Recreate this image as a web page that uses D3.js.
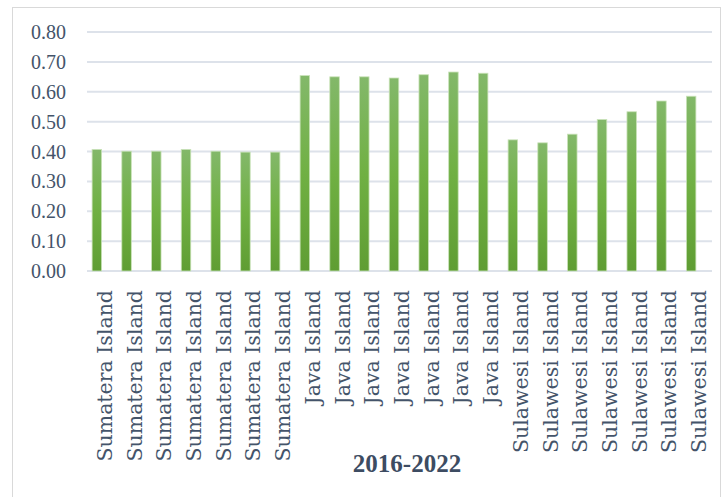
<!DOCTYPE html>
<head>
  <meta charset="utf-8">
  <script src="https://cdn.jsdelivr.net/npm/d3@7"></script>
  <style>
    body { margin:0; background:#fff; }
    svg { display:block; }
  </style>
</head>

<body>
  <script>
    // values, 2016-2022 for each island
    var islands = ["Sumatera Island", "Java Island", "Sulawesi Island"];
    var years = [2016, 2017, 2018, 2019, 2020, 2021, 2022];
    var sumatera = [0.407, 0.401, 0.401, 0.407, 0.401, 0.398, 0.398];
    var java = [0.654, 0.650, 0.650, 0.646, 0.657, 0.666, 0.662];
    var sulawesi = [0.439, 0.429, 0.458, 0.507, 0.533, 0.569, 0.585];
    var yTicks = [0, 0.1, 0.2, 0.3, 0.4, 0.5, 0.6, 0.7, 0.8];
    var axisTitle = "2016-2022";

    var width = 722, height = 497;

    // flatten into one row per bar
    var rows = [];
    [sumatera, java, sulawesi].forEach(function (s, i) {
      s.forEach(function (v, j) {
        rows.push({ id: i + "-" + j, label: islands[i], value: v });
      });
    });

    var svg = d3.select("body").append("svg")
      .attr("width", width)
      .attr("height", height);

    // chart area border
    svg.append("rect")
      .attr("x", 12.5).attr("y", 7.5)
      .attr("width", 708).attr("height", 500)
      .attr("fill", "none")
      .attr("stroke", "#d9d9d9")
      .attr("stroke-width", 1);

    var x = d3.scaleBand()
      .domain(rows.map(function (d) { return d.id; }))
      .range([82, 706])
      .paddingInner(0.68)
      .paddingOuter(0.34);

    var y = d3.scaleLinear()
      .domain([0, 0.8])
      .range([271, 32]);

    var grad = svg.append("defs").append("linearGradient")
      .attr("id", "barGrad")
      .attr("x1", 0).attr("y1", 0).attr("x2", 0).attr("y2", 1);
    grad.append("stop").attr("offset", "0%").attr("stop-color", "#83b86a");
    grad.append("stop").attr("offset", "50%").attr("stop-color", "#70b043");
    grad.append("stop").attr("offset", "100%").attr("stop-color", "#5f9d33");

    // gridlines
    svg.append("g").selectAll("line")
      .data(yTicks).enter()
      .append("line")
      .attr("x1", 87).attr("x2", 712)
      .attr("y1", function (d) { return y(d); })
      .attr("y2", function (d) { return y(d); })
      .attr("stroke", "#dde2ea")
      .attr("stroke-width", 2);

    // y tick labels
    svg.append("g").selectAll("text")
      .data(yTicks).enter()
      .append("text")
      .attr("x", 66)
      .attr("y", function (d) { return y(d); })
      .attr("dy", "0.35em")
      .attr("text-anchor", "end")
      .attr("font-family", "Liberation Serif")
      .attr("font-size", 20)
      .attr("fill", "#44546a")
      .text(function (d) { return d3.format(".2f")(d); });

    // bars
    svg.append("g").selectAll("rect")
      .data(rows).enter()
      .append("rect")
      .attr("x", function (d) { return x(d.id); })
      .attr("width", x.bandwidth())
      .attr("y", function (d) { return y(d.value); })
      .attr("height", function (d) { return y(0) - y(d.value); })
      .attr("fill", "url(#barGrad)")
      .attr("stroke", "#c9e2b8")
      .attr("stroke-width", 0.8);

    // rotated category labels
    svg.append("g").selectAll("text")
      .data(rows).enter()
      .append("text")
      .attr("transform", function (d) {
        return "translate(" + (x(d.id) + x.bandwidth() / 2 + 15) + ",290) rotate(-90)";
      })
      .attr("text-anchor", "end")
      .attr("font-family", "DejaVu Serif")
      .attr("font-size", 20.5)
      .attr("fill", "#44546a")
      .text(function (d) { return d.label; });

    // axis title
    svg.append("text")
      .attr("x", 407)
      .attr("y", 472)
      .attr("text-anchor", "middle")
      .attr("font-family", "Liberation Serif")
      .attr("font-weight", "bold")
      .attr("font-size", 25)
      .attr("fill", "#3d4c62")
      .text(axisTitle);
  </script>
</body>
</html>
